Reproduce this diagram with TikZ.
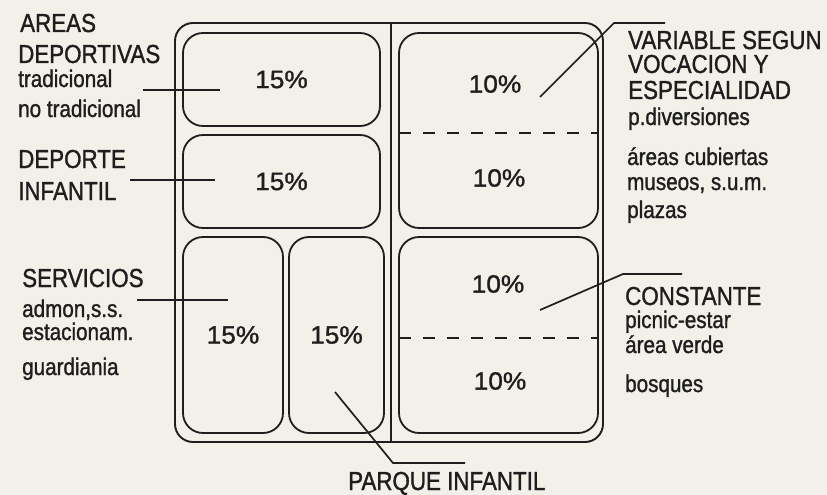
\documentclass[tikz,border=0pt]{standalone}
\usepackage{fontspec}
\setmainfont[FakeStretch=0.86,FakeBold=1.2]{Liberation Sans}
\newfontfamily\pctfont[FakeStretch=1.05,FakeBold=1.2]{Liberation Sans}
\definecolor{bg}{RGB}{243,240,233}
\definecolor{ink}{RGB}{30,30,30}
\begin{document}
\begin{tikzpicture}[x=1pt,y=-1pt,
  every node/.style={text=ink},
  box/.style={draw=ink, line width=1.8pt, rounded corners=20pt, rectangle, inner sep=0pt, font=\pctfont\fontsize{25}{25}\selectfont},
  frame/.style={draw=ink, line width=1.9pt, rounded corners=18pt, rectangle, inner sep=0pt},
  pct/.style={font=\pctfont\fontsize{25}{25}\selectfont, inner sep=0pt},
  capt/.style={anchor=base west, inner sep=0pt, font=\fontsize{26}{26}\selectfont},
  lowt/.style={anchor=base west, inner sep=0pt, font=\fontsize{24}{24}\selectfont},
  lead/.style={draw=ink, line width=1.7pt},
  divline/.style={draw=ink, line width=1.9pt},
  dashline/.style={draw=ink, line width=1.7pt, dash pattern=on 12pt off 12pt}]
\fill[bg] (0,0) rectangle (827,495);
\useasboundingbox (0,0) rectangle (827,495);

% frame and divider
\node[frame, minimum width=428, minimum height=419] (frame) at (389,232.5) {};
\coordinate (divt) at (391,23);
\coordinate (divb) at (391,442);
\draw[divline] (divt) -- (divb);

% boxes
\node[box, minimum width=197, minimum height=93] (b1) at (281.5,79.5) {15\%};
\node[box, minimum width=197, minimum height=93] (b2) at (281.5,181.5) {15\%};
\node[box, minimum width=100, minimum height=196] (b3) at (233,335) {15\%};
\node[box, minimum width=95, minimum height=196] (b4) at (336.5,335) {15\%};
\node[box, minimum width=199, minimum height=195] (b5) at (498.5,130.5) {};
\node[box, minimum width=199, minimum height=196] (b6) at (498.5,335) {};

% dashed splits
\coordinate (d1a) at (399,133);
\coordinate (d1b) at (598,133);
\coordinate (d2a) at (399,338);
\coordinate (d2b) at (598,338);
\draw[dashline] (d1a) -- (d1b);
\draw[dashline] (d2a) -- (d2b);

% right percents
\node[pct] (p5a) at (495,84) {10\%};
\node[pct] (p5b) at (499,178) {10\%};
\node[pct] (p6a) at (498,284) {10\%};
\node[pct] (p6b) at (500,381) {10\%};

% left labels
\node[capt] (t1) at (20,32) {AREAS};
\node[capt] (t2) at (18,63) {DEPORTIVAS};
\node[lowt] (t3) at (18,87) {tradicional};
\node[lowt] (t4) at (18,117) {no tradicional};
\node[capt] (t5) at (18,168) {DEPORTE};
\node[capt] (t6) at (18,200) {INFANTIL};
\node[capt] (t7) at (22,287) {SERVICIOS};
\node[lowt] (t8) at (22,317) {admon,s.s.};
\node[lowt] (t9) at (22,340) {estacionam.};
\node[lowt] (t10) at (22,375) {guardiania};

% right labels
\node[capt] (r1) at (628,49) {VARIABLE SEGUN};
\node[capt] (r2) at (628,73) {VOCACION Y};
\node[capt] (r3) at (628,99) {ESPECIALIDAD};
\node[lowt] (r4) at (628,125) {p.diversiones};
\node[lowt] (r5) at (627,165) {áreas cubiertas};
\node[lowt] (r6) at (627,190) {museos, s.u.m.};
\node[lowt] (r7) at (627,218) {plazas};
\node[capt] (r8) at (625,305) {CONSTANTE};
\node[lowt] (r9) at (625,328) {picnic-estar};
\node[lowt] (r10) at (625,353) {área verde};
\node[lowt] (r11) at (625,392) {bosques};
\node[capt] (bt) at (348,490) {PARQUE INFANTIL};

% leader lines
\coordinate (l1a) at (143,90);  \coordinate (l1b) at (220,90);
\coordinate (l2a) at (130,180); \coordinate (l2b) at (215,180);
\coordinate (l3a) at (137,300); \coordinate (l3b) at (228,300);
\draw[lead] (l1a) -- (l1b);
\draw[lead] (l2a) -- (l2b);
\draw[lead] (l3a) -- (l3b);

\coordinate (v1) at (540,97); \coordinate (v2) at (614,23); \coordinate (v3) at (665,23);
\draw[lead] (v1) -- (v2) -- (v3);
\coordinate (c1) at (540,310); \coordinate (c2) at (623,274); \coordinate (c3) at (682,274);
\draw[lead] (c1) -- (c2) -- (c3);
\coordinate (q1) at (335,392); \coordinate (q2) at (393,463); \coordinate (q3) at (465,463);
\draw[lead] (q1) -- (q2) -- (q3);
\end{tikzpicture}
\end{document}
